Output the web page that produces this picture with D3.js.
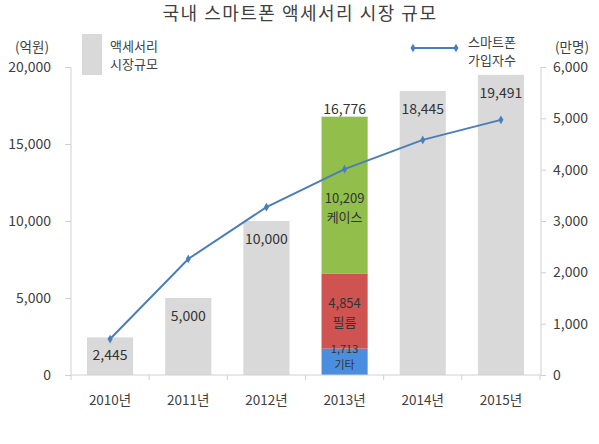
<!DOCTYPE html>
<html>
<head>
<meta charset="utf-8">
<script src="https://cdn.jsdelivr.net/npm/d3@7"></script>
<style>
  body { margin: 0; background: #fff; }
  svg { font-family: "Noto Sans CJK KR", "Noto Sans", sans-serif; }
</style>
</head>
<body>
<div id="chart"></div>
<script>
// chart data
const years = ['2010년', '2011년', '2012년', '2013년', '2014년', '2015년'];
const marketSize = [2445, 5000, 10000, 16776, 18445, 19491];
const subscribers = [700, 2260, 3270, 4010, 4580, 4970];
const stackNames = ['기타', '필름', '케이스'];
const stackValues = [1713, 4854, 10209];
const leftTicks = [0, 5000, 10000, 15000, 20000];
const rightTicks = [0, 1000, 2000, 3000, 4000, 5000, 6000];

const width = 599, height = 444;
const colors = {
    bar: '#d9d9d9',
    line: '#4a7ebb',
    text: '#404040',
    axis: '#d0d0d0',
    stack: ['#4a8fdf', '#cf5350', '#92be4c']
};

const svg = d3.select('#chart')
    .append('svg')
    .attr('width', width)
    .attr('height', height);

const x = d3.scaleBand()
    .domain(years)
    .range([71, 540])
    .paddingInner(0.41)
    .paddingOuter(0.205);

const yLeft = d3.scaleLinear().domain([0, 20000]).range([375, 67]);
const yRight = d3.scaleLinear().domain([0, 6000]).range([375, 67]);

const fmt = d3.format(',');

// title
svg.append('text')
    .attr('x', 300)
    .attr('y', 20)
    .attr('text-anchor', 'middle')
    .style('font-size', '18px')
    .style('letter-spacing', '1.5px')
    .style('fill', colors.text)
    .text('국내 스마트폰 액세서리 시장 규모');

// left axis
const leftAxis = svg.append('g')
    .attr('transform', 'translate(71,0)')
    .call(d3.axisLeft(yLeft).tickValues(leftTicks).tickFormat(fmt).tickSize(6).tickPadding(14));
leftAxis.select('.domain').attr('stroke', colors.axis).attr('d', `M0,${yLeft(0)}V${yLeft(20000)}`);

// right axis
const rightAxis = svg.append('g')
    .attr('transform', 'translate(541,0)')
    .call(d3.axisRight(yRight).tickValues(rightTicks).tickFormat(fmt).tickSize(5).tickPadding(7));
rightAxis.select('.domain').attr('stroke', colors.axis).attr('d', `M0,${yRight(0)}V${yRight(6000)}`);

svg.selectAll('.tick line').attr('stroke', colors.axis);
svg.selectAll('.tick text')
    .style('font-size', '14px')
    .style('fill', colors.text)
    .style('font-family', '"Noto Sans CJK KR", sans-serif');

// unit labels
svg.append('text').attr('x', 32).attr('y', 52).attr('text-anchor', 'middle')
    .style('font-size', '13.5px').style('fill', colors.text).text('(억원)');
svg.append('text').attr('x', 572).attr('y', 52).attr('text-anchor', 'middle')
    .style('font-size', '13.5px').style('fill', colors.text).text('(만명)');

// bars
const bars = years.map((y, i) => ({ year: y, value: marketSize[i], index: i }));
svg.selectAll('rect.bar')
    .data(bars.filter(d => d.index !== 3))
    .join('rect')
    .attr('class', 'bar')
    .attr('x', d => x(d.year))
    .attr('width', x.bandwidth())
    .attr('y', d => yLeft(d.value))
    .attr('height', d => yLeft(0) - yLeft(d.value))
    .attr('fill', colors.bar);

// stacked 2013 bar
let cum = 0;
const stacks = stackValues.map((v, i) => {
    const seg = { name: stackNames[i], value: v, y0: cum, y1: cum + v, color: colors.stack[i] };
    cum += v;
    return seg;
});
svg.selectAll('rect.stack')
    .data(stacks)
    .join('rect')
    .attr('class', 'stack')
    .attr('x', x(years[3]))
    .attr('width', x.bandwidth())
    .attr('y', d => yLeft(d.y1))
    .attr('height', d => yLeft(d.y0) - yLeft(d.y1))
    .attr('fill', d => d.color);

// stacked labels (small segment gets smaller lines)
const stackShift = [-6, 1, 12];
const stackGap = [16, 19, 19];
const stackFont = [11, 13, 13];
stacks.forEach((d, i) => {
    const cx = x(years[3]) + x.bandwidth() / 2;
    const cy = (yLeft(d.y0) + yLeft(d.y1)) / 2 + stackShift[i];
    const t = svg.append('text')
        .attr('text-anchor', 'middle')
        .style('font-size', stackFont[i] + 'px')
        .style('fill', '#333');
    t.append('tspan').attr('x', cx).attr('y', cy - stackGap[i] / 2 + 5).text(fmt(d.value));
    t.append('tspan').attr('x', cx).attr('y', cy + stackGap[i] / 2 + 5).text(d.name);
});

// bar value labels
svg.selectAll('text.barlabel')
    .data(bars)
    .join('text')
    .attr('class', 'barlabel')
    .attr('x', d => x(d.year) + x.bandwidth() / 2)
    .attr('y', d => d.index === 3 ? yLeft(d.value) - 3 : yLeft(d.value) + 23)
    .attr('text-anchor', 'middle')
    .style('font-size', '14px')
    .style('fill', '#333')
    .text(d => fmt(d.value));

// x axis baseline and ticks
svg.append('line')
    .attr('x1', 71).attr('x2', 541)
    .attr('y1', yLeft(0)).attr('y2', yLeft(0))
    .attr('stroke', colors.axis);
d3.range(years.length + 1).forEach(i => {
    const bx = x.range()[0] + i * x.step();
    svg.append('line')
        .attr('x1', bx).attr('x2', bx)
        .attr('y1', yLeft(0)).attr('y2', yLeft(0) + 5)
        .attr('stroke', colors.axis);
});
svg.selectAll('text.xlabel')
    .data(years)
    .join('text')
    .attr('class', 'xlabel')
    .attr('x', d => x(d) + x.bandwidth() / 2)
    .attr('y', 405)
    .attr('text-anchor', 'middle')
    .style('font-size', '13.5px')
    .style('fill', colors.text)
    .text(d => d);

// subscriber line
const pts = years.map((y, i) => [x(y) + x.bandwidth() / 2, yRight(subscribers[i])]);
svg.append('path')
    .attr('d', d3.line()(pts))
    .attr('fill', 'none')
    .attr('stroke', colors.line)
    .attr('stroke-width', 2);
const diamond = d3.symbol().type(d3.symbolDiamond).size(22);
svg.selectAll('path.marker')
    .data(pts)
    .join('path')
    .attr('class', 'marker')
    .attr('transform', d => `translate(${d[0]},${d[1]})`)
    .attr('d', diamond)
    .attr('fill', colors.line);

// legend: bars
svg.append('rect')
    .attr('x', 82).attr('y', 34).attr('width', 20).attr('height', 41)
    .attr('fill', colors.bar);
svg.append('text').attr('x', 110).attr('y', 51)
    .style('font-size', '13px').style('fill', colors.text).text('액세서리');
svg.append('text').attr('x', 110).attr('y', 69)
    .style('font-size', '13px').style('fill', colors.text).text('시장규모');

// legend: line
svg.append('line')
    .attr('x1', 413).attr('x2', 456).attr('y1', 48).attr('y2', 48)
    .attr('stroke', colors.line).attr('stroke-width', 2);
svg.selectAll('path.legmarker')
    .data([413, 456])
    .join('path')
    .attr('class', 'legmarker')
    .attr('transform', d => `translate(${d},48)`)
    .attr('d', diamond)
    .attr('fill', colors.line);
svg.append('text').attr('x', 468).attr('y', 47)
    .style('font-size', '13px').style('fill', colors.text).text('스마트폰');
svg.append('text').attr('x', 468).attr('y', 65)
    .style('font-size', '13px').style('fill', colors.text).text('가입자수');
</script>
</body>
</html>
